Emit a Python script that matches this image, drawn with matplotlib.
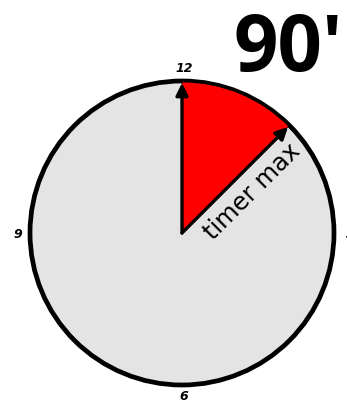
import matplotlib
matplotlib.use('Agg')
import matplotlib.pyplot as plt
from matplotlib.patches import Circle, Wedge
import numpy as np

# timer data
timer_minutes = 90
clock_minutes = 12 * 60
hour_labels = ['12', '3', '6', '9']
hour_values = [0, 3, 6, 9]
timer_title = "90'"
arrow_label = 'timer max'

W, H = 347, 403
fig = plt.figure(figsize=(W / 100, H / 100), dpi=100)
ax = fig.add_axes([0, 0, 1, 1])
ax.set_xlim(0, W)
ax.set_ylim(0, H)
ax.set_aspect('equal')
ax.axis('off')

cx, cy, r = 182, H - 233, 152

# clock face
ax.add_patch(Circle((cx, cy), r, facecolor='#e4e4e4', edgecolor='black', lw=3.4, zorder=1))

# red sector for the timer (clockwise from 12)
end_angle = 90 - 360 * timer_minutes / clock_minutes
ax.add_patch(Wedge((cx, cy), r - 1, end_angle, 90, facecolor='#ff0000',
                   edgecolor='black', lw=0.6, zorder=2))

# arrows
arrow_kw = dict(arrowstyle='-|>', color='black', lw=2.4, mutation_scale=18,
                shrinkA=0, shrinkB=0)
for ang in [90, end_angle]:
    a = np.radians(ang)
    ax.annotate('', xy=(cx + (r - 2) * np.cos(a), cy + (r - 2) * np.sin(a)),
                xytext=(cx, cy), arrowprops=arrow_kw, zorder=4)

# hour labels
for lab, hv in zip(hour_labels, hour_values):
    a = np.radians(90 - hv * 30)
    rr = 162 if hv == 6 else 166
    ax.text(cx + rr * np.cos(a) + 2, cy + rr * np.sin(a) - 1, lab, ha='center', va='center',
            fontsize=9, fontstyle='italic', fontweight='bold', zorder=5)

# rotated arrow label
a = np.radians(end_angle)
px, py = np.cos(a - np.pi / 2), np.sin(a - np.pi / 2)
tx = cx + 79 * np.cos(a) + 20 * px
ty = cy + 79 * np.sin(a) + 20 * py
ax.text(tx, ty, arrow_label, rotation=end_angle, rotation_mode='anchor',
        ha='center', va='center', fontsize=17.5, zorder=5)

# big title
ax.text(288, H - 51, timer_title, ha='center', va='center', fontsize=56,
        fontweight='bold', family=['Open Sans', 'DejaVu Sans'])

fig.savefig('out.png', dpi=100)
